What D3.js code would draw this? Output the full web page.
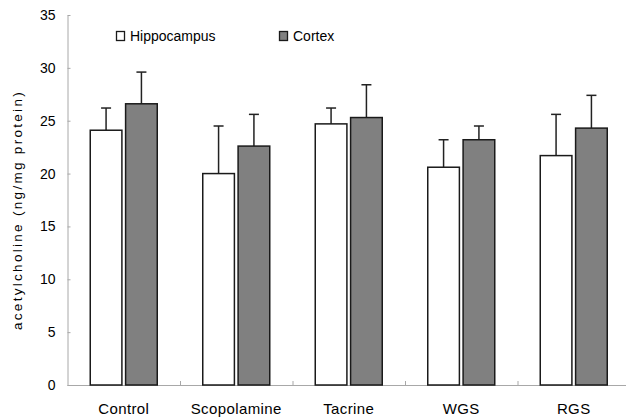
<!DOCTYPE html>
<html>
<head>
<meta charset="utf-8">
<script src="https://cdn.jsdelivr.net/npm/d3@7"></script>
<style>
  body { margin: 0; background: #fff; }
  svg { display: block; font-family: "Liberation Sans", Arial, sans-serif; }
</style>
</head>
<body>
<svg id="chart" width="626" height="418"></svg>
<script>
// Acetylcholine content by treatment group (mean and SD)
const groups = ["Control", "Scopolamine", "Tacrine", "WGS", "RGS"];
const seriesNames = ["Hippocampus", "Cortex"];
const hippocampus = [24.1, 20.0, 24.7, 20.6, 21.7];
const hippocampusErr = [2.1, 4.5, 1.5, 2.6, 3.9];
const cortex = [26.6, 22.6, 25.3, 23.2, 24.3];
const cortexErr = [3.0, 3.0, 3.1, 1.3, 3.1];
const yTicks = [0, 5, 10, 15, 20, 25, 30, 35];

const svg = d3.select("#chart");
const axisColor = "#a8a8a8";
const fills = ["#ffffff", "#808080"];

const x = d3.scaleBand().domain(groups).range([67.5, 630]);
const xs = d3.scaleBand().domain(seriesNames).range([22.75, 89.75]).paddingInner(7 / 67);
const y = d3.scaleLinear().domain([0, 35]).range([385, 15]);

// y axis
const yAxis = svg.append("g").attr("transform", "translate(67.5,0)")
  .call(d3.axisLeft(y).tickValues(yTicks).tickSizeInner(-3).tickSizeOuter(0).tickPadding(12));
yAxis.select(".domain").attr("stroke", axisColor);
yAxis.selectAll(".tick line").attr("stroke", axisColor);
yAxis.selectAll(".tick text").attr("font-size", 14).attr("fill", "#000")
  .attr("font-family", "Liberation Sans, Arial, sans-serif");

// x axis with separators between groups
svg.append("line").attr("x1", 67.5).attr("x2", 626).attr("y1", 385.5).attr("y2", 385.5)
  .attr("stroke", axisColor);
svg.append("g").selectAll("line").data(groups.slice(1)).join("line")
  .attr("x1", d => x(d) + 0.5).attr("x2", d => x(d) + 0.5)
  .attr("y1", 385).attr("y2", 381).attr("stroke", axisColor);
svg.append("g").selectAll("text").data(groups).join("text")
  .attr("x", d => x(d) + x.bandwidth() / 2).attr("y", 414)
  .attr("text-anchor", "middle").attr("font-size", 15).attr("letter-spacing", 0.4)
  .text(d => d);

// bars and error bars
const data = groups.flatMap((g, i) => [
  { g, s: seriesNames[0], v: hippocampus[i], e: hippocampusErr[i], k: 0 },
  { g, s: seriesNames[1], v: cortex[i], e: cortexErr[i], k: 1 }
]);

const err = svg.append("g").attr("stroke", "#222").attr("stroke-width", 1.5);
data.forEach(d => {
  const cx = x(d.g) + xs(d.s) + xs.bandwidth() / 2;
  err.append("line").attr("x1", cx).attr("x2", cx).attr("y1", y(d.v)).attr("y2", y(d.v + d.e));
  err.append("line").attr("x1", cx - 5).attr("x2", cx + 5).attr("y1", y(d.v + d.e)).attr("y2", y(d.v + d.e));
});

svg.append("g").selectAll("rect").data(data).join("rect")
  .attr("x", d => x(d.g) + xs(d.s))
  .attr("width", xs.bandwidth())
  .attr("y", d => y(d.v))
  .attr("height", d => y(0) - y(d.v))
  .attr("fill", d => fills[d.k])
  .attr("stroke", "#1a1a1a").attr("stroke-width", 1.5);

// legend
const legendX = [116.5, 279.5];
const legend = svg.append("g");
seriesNames.forEach((name, i) => {
  legend.append("rect").attr("x", legendX[i]).attr("y", 31.5).attr("width", 8).attr("height", 9)
    .attr("fill", fills[i]).attr("stroke", "#1a1a1a").attr("stroke-width", 1.3);
  legend.append("text").attr("x", legendX[i] + 13.5).attr("y", 41)
    .attr("font-size", 14).text(name);
});

// y axis title
svg.append("text")
  .attr("transform", "translate(22,210) rotate(-90)")
  .attr("text-anchor", "middle").attr("font-size", 13.5).attr("letter-spacing", 2.3)
  .text("acetylcholine (ng/mg protein)");
</script>
</body>
</html>
